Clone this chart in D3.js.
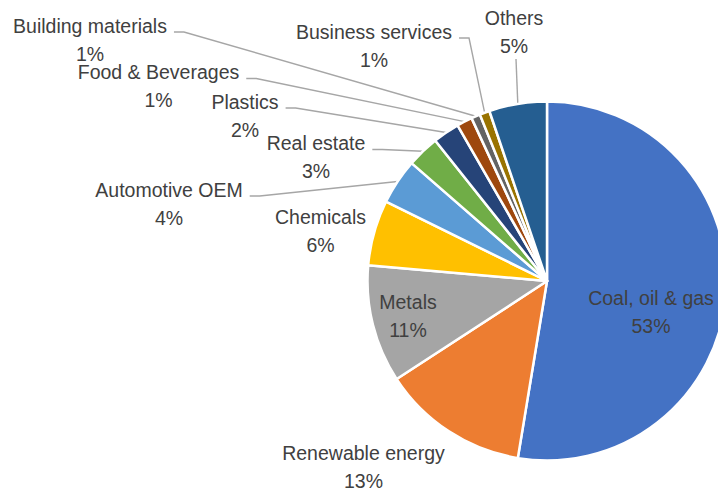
<!DOCTYPE html>
<html>
<head>
<meta charset="utf-8">
<script src="https://cdn.jsdelivr.net/npm/d3@7"></script>
<style>
  html, body { margin: 0; padding: 0; background: #fff; }
  svg { display: block; }
  text { font-family: "Liberation Sans", Arial, sans-serif; fill: #404040; }
</style>
</head>
<body>
<svg id="chart" width="718" height="495"></svg>
<script>
// Share of exposure by sector (percent)
const sectors = [
  "Coal, oil & gas", "Renewable energy", "Metals", "Chemicals", "Automotive OEM",
  "Real estate", "Plastics", "Food & Beverages", "Building materials",
  "Business services", "Others"
];
const shares = [52.6, 13.2, 10.6, 5.9, 4.1, 2.9, 2.4, 1.4, 0.8, 0.9, 5.2];
const colors = [
  "#4472C4", "#ED7D31", "#A5A5A5", "#FFC000", "#5B9BD5",
  "#70AD47", "#264478", "#9E480E", "#636363", "#997300", "#255E91"
];

// Label placement: first-line baseline, and how the leader line leaves the label
const labelLayout = [
  { x: 651,   y: 305, leader: null },
  { x: 363.5, y: 460, leader: null },
  { x: 408,   y: 309, leader: null },
  { x: 320.5, y: 224, leader: null },
  { x: 169,   y: 196.5, leader: "right" },
  { x: 316,   y: 150, leader: "right" },
  { x: 245,   y: 108.5, leader: "right" },
  { x: 158.5, y: 79,  leader: "right" },
  { x: 90,    y: 32.5, leader: "right" },
  { x: 374,   y: 38.5, leader: "right" },
  { x: 514,   y: 25,  leader: "below" }
];

const cx = 547, cy = 281, radius = 179.5;
const fontSize = 19.5, lineGap = 28;

const svg = d3.select("#chart");
const g = svg.append("g").attr("transform", `translate(${cx},${cy})`);

const total = d3.sum(shares);
const rows = sectors.map((name, i) => ({ name, value: shares[i], color: colors[i], layout: labelLayout[i] }));

const pie = d3.pie().value(d => d.value).sort(null);
const arcs = pie(rows);
const arc = d3.arc().innerRadius(0).outerRadius(radius);

g.selectAll("path.slice")
  .data(arcs)
  .join("path")
  .attr("class", "slice")
  .attr("d", arc)
  .attr("fill", d => d.data.color)
  .attr("stroke", "#fff")
  .attr("stroke-width", 2.5)
  .attr("stroke-linejoin", "round");

const pct = d3.format(".0%");

// Labels (category name + percentage)
const labels = svg.append("g");
const leaders = svg.insert("g", ":first-child").attr("transform", `translate(${cx},${cy})`);

arcs.forEach(a => {
  const L = a.data.layout;
  const t = labels.append("text")
    .attr("text-anchor", "middle")
    .attr("font-size", fontSize);
  t.append("tspan").attr("x", L.x).attr("y", L.y).text(a.data.name);
  t.append("tspan").attr("x", L.x).attr("y", L.y + lineGap).text(pct(a.data.value / total));

  if (!L.leader) return;
  const mid = (a.startAngle + a.endAngle) / 2;
  const ex = Math.sin(mid) * radius, ey = -Math.cos(mid) * radius;
  let pts;
  if (L.leader === "right") {
    const w = t.select("tspan").node().getComputedTextLength();
    const sx = L.x + w / 2 + 7 - cx;
    const sy = L.y - 0.5 - cy;
    pts = [[sx, sy], [sx + 10, sy], [ex, ey]];
  } else {
    const sx = L.x + 2 - cx;
    const sy = L.y + lineGap + 6 - cy;
    pts = [[sx, sy], [ex, ey]];
  }
  leaders.append("path")
    .attr("d", d3.line()(pts))
    .attr("fill", "none")
    .attr("stroke", "#A6A6A6")
    .attr("stroke-width", 1.4);
});
</script>
</body>
</html>
